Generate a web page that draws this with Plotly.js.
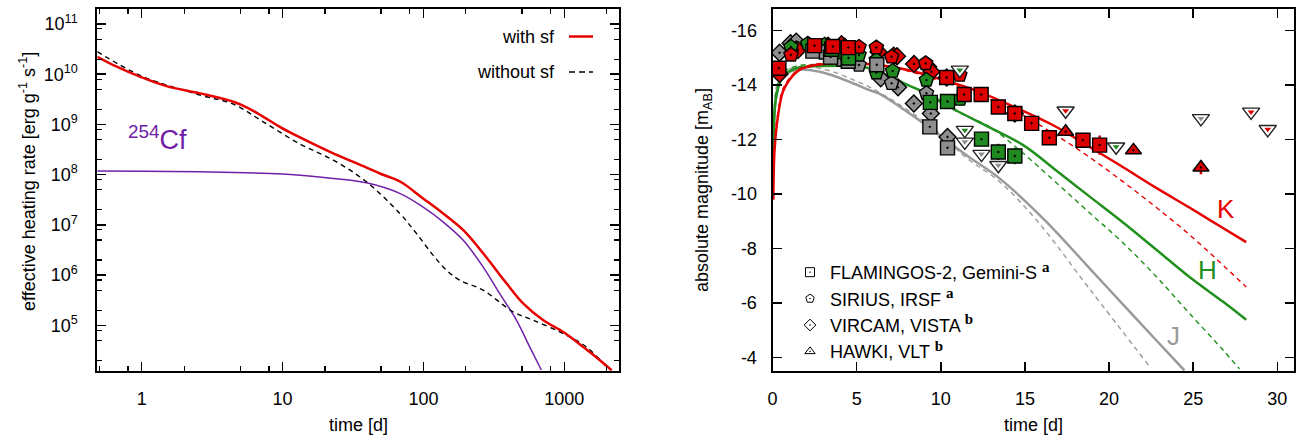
<!DOCTYPE html>
<html>
<head>
<meta charset="utf-8">
<script src="https://cdn.plot.ly/plotly-3.0.1.min.js"></script>
<style>html,body{margin:0;padding:0;background:#fff}#chart{width:1299px;height:437px}</style>
</head>
<body>
<div id="chart"></div>
<script>
// ---------- Left panel: effective heating rate ----------
const withSfT = [0.484, 0.665, 1, 1.5, 2.6, 4.47, 5.7, 7.3, 9.84, 13.3, 21.7, 39.5, 50, 68.2, 98.9, 138, 192, 266, 390, 512, 710, 984, 1365, 1790, 2168];
const withSfQ = [2.23e10, 1.41e10, 8.65e9, 5.8e9, 4.16e9, 2.83e9, 2.12e9, 1.42e9, 8.57e8, 5.52e8, 2.85e8, 1.38e8, 1.03e8, 7.3e7, 3.4e7, 1.69e7, 7.84e6, 2.69e6, 6.78e5, 2.7e5, 1.26e5, 7.36e4, 3.7e4, 2.01e4, 1.27e4];
const withoutSfT = [0.484, 1, 2.59, 4.47, 7.28, 13.3, 22.9, 39.4, 67.9, 89.1, 117, 145.5, 180.7, 265, 432, 598, 977, 1432, 1986];
const withoutSfQ = [2.81e10, 9.2e9, 3.85e9, 2.54e9, 1.13e9, 4.07e8, 1.95e8, 7.21e7, 1.69e7, 6.76e6, 2.5e6, 1.26e6, 7.94e5, 5.01e5, 1.86e5, 1.27e5, 6.89e4, 3.73e4, 1.49e4];
const cfT = [0.484, 2.59, 10, 22.9, 39.4, 67.9, 98.4, 137.7, 191, 265, 347, 457, 568, 687];
const cfQ = [1.18e8, 1.14e8, 1.03e8, 8.43e7, 6.89e7, 4.24e7, 2.30e7, 1.15e7, 4.98e6, 1.46e6, 4.32e5, 1.27e5, 3.73e4, 1.29e4];
const leftXTicks = [1, 10, 100, 1000];
const leftXTickText = ['1', '10', '100', '1000'];
const leftXMinor = [0.5, 0.8, 2, 5, 8, 20, 50, 80, 200, 500, 800, 2000];
const leftYTicks = [1e5, 1e6, 1e7, 1e8, 1e9, 1e10, 1e11];
const leftYTickText = ['10<sup>5</sup>', '10<sup>6</sup>', '10<sup>7</sup>', '10<sup>8</sup>', '10<sup>9</sup>', '10<sup>10</sup>', '10<sup>11</sup>'];
const leftYMinor = [2e4, 5e4, 8e4, 2e5, 5e5, 8e5, 2e6, 5e6, 8e6, 2e7, 5e7, 8e7, 2e8, 5e8, 8e8, 2e9, 5e9, 8e9, 2e10, 5e10, 8e10, 2e11];

// ---------- Right panel: light curves (model) ----------
const jSolidT = [0.05, 0.22, 0.5, 1.0, 1.8, 2.8, 3.79, 4.78, 5.77, 6.37, 7.56, 9.54, 11.53, 13.51, 16.19, 18.87, 20.85, 22.83, 24.48];
const jSolidM = [-11.8, -13.6, -14.2, -14.49, -14.58, -14.49, -14.31, -14.07, -13.82, -13.68, -13.21, -12.35, -11.43, -10.57, -9.04, -7.26, -5.94, -4.62, -3.53];
const jDashT = [0.05, 0.22, 0.5, 0.82, 1.8, 2.8, 3.79, 4.78, 5.77, 7.56, 9.54, 11.53, 13.51, 15.7, 18.87, 22.44];
const jDashM = [-12.5, -13.9, -14.4, -14.56, -14.68, -14.62, -14.45, -14.2, -13.93, -13.28, -12.42, -11.33, -10.45, -9.04, -6.5, -3.65];
const hSolidT = [0.05, 0.22, 0.61, 1.41, 2.8, 4.78, 5.77, 7, 8.05, 8.95, 10.04, 10.9, 12.9, 14.9, 16.9, 18.87, 20.85, 22.83, 24.8, 26.8, 28.15];
const hSolidM = [-11.2, -13.57, -14.31, -14.62, -14.7, -14.7, -14.62, -14.31, -14.0, -13.76, -13.39, -13.08, -12.45, -11.8, -10.85, -9.9, -8.95, -7.95, -6.95, -6.04, -5.39];
const hDashT = [0.05, 0.22, 0.61, 1.41, 2.8, 4.78, 5.77, 7, 8.95, 10.9, 12.9, 14.9, 16.9, 18.87, 20.85, 22.83, 24.8, 26.8, 27.75];
const hDashM = [-11.6, -13.8, -14.45, -14.7, -14.76, -14.72, -14.62, -14.3, -13.73, -13.05, -12.47, -11.5, -10.4, -9.3, -8.2, -6.96, -5.61, -4.26, -3.59];
const kSolidT = [0.05, 0.12, 0.32, 0.61, 1.0, 1.6, 2.4, 3.4, 5, 6.07, 8.05, 10.04, 12.02, 14.7, 16.68, 18.67, 20.65, 22.83, 24.8, 26.5, 28.15];
const kSolidM = [-9.8, -11.6, -12.84, -13.75, -14.19, -14.56, -14.72, -14.8, -14.8, -14.76, -14.56, -14.21, -13.82, -13.11, -12.53, -11.8, -11.06, -10.22, -9.5, -8.86, -8.24];
const kDashT = [0.05, 0.12, 0.32, 0.61, 1.0, 1.6, 2.4, 3.4, 5, 6.07, 8.05, 10.04, 12.02, 14.7, 16.68, 18.67, 20.85, 22.83, 24.8, 26.5, 28.15];
const kDashM = [-10.2, -11.9, -13.0, -13.85, -14.25, -14.6, -14.75, -14.82, -14.8, -14.74, -14.52, -14.15, -13.72, -12.96, -12.23, -11.43, -10.45, -9.5, -8.5, -7.55, -6.59];

// ---------- Right panel: observations ----------
const flamT = [2.4, 3.2, 3.45, 4.5, 6.2, 9.35, 10.4, 3.52, 4.52, 9.38, 10.4, 12.42, 13.42, 14.4, 0.38, 2.5, 3.59, 4.5, 10.35, 11.39, 12.4, 13.42, 14.4, 15.4, 16.45, 18.45, 19.44];
const flamM = [-15.25, -15.22, -15.03, -14.88, -14.75, -12.47, -11.7, -15.32, -15.0, -13.37, -13.4, -12.02, -11.55, -11.4, -14.62, -15.45, -15.42, -15.38, -14.28, -13.66, -13.66, -13.2, -12.96, -12.6, -12.07, -11.98, -11.8];
const flamBand = ['J','J','J','J','J','J','J','H','H','H','H','H','H','H','K','K','K','K','K','K','K','K','K','K','K','K','K'];
const flamErr = [0,0,0,0,0,0.1,0.2,0,0,0,0,0.15,0.3,0.3,0,0,0,0,0,0,0,0,0,0,0,0,0.35];
const siriusT = [4.1, 5.14, 7.08, 9.15, 1.1, 2.1, 3.1, 4.1, 5.14, 6.17, 6.17, 7.14, 9.15, 11.15, 1.1, 5.14, 6.17, 7.08, 9.1, 11.13];
const siriusM = [-14.92, -14.74, -14.07, -13.7, -15.4, -15.52, -15.48, -15.2, -15.11, -14.92, -14.46, -14.52, -14.19, -13.49, -15.11, -15.4, -15.38, -15.04, -14.8, -14.37];
const siriusBand = ['J','J','J','J','H','H','H','H','H','H','H','H','H','H','K','K','K','K','K','K'];
const siriusErr = siriusT.map(() => 0);
const vircamT = [0.42, 1.07, 1.41, 6.43, 7.46, 8.4, 9.41, 10.4, 0.42, 1.51, 2.6, 3.3, 4.1, 4.29, 6.3, 7.2, 7.4, 8.41, 9.25, 9.45, 10.35, 14.4];
const vircamM = [-15.19, -15.54, -15.6, -14.25, -13.92, -13.33, -12.96, -12.1, -14.41, -15.29, -15.38, -15.45, -15.5, -15.41, -15.22, -15.08, -15.06, -14.78, -14.68, -14.49, -14.28, -12.96];
const vircamBand = ['J','J','J','J','J','J','J','J','K','K','K','K','K','K','K','K','K','K','K','K','K','K'];
const vircamErr = vircamT.map(() => 0);
const hawkiT = [17.42, 21.45, 25.46];
const hawkiM = [-12.29, -11.61, -10.98];
const hawkiBand = ['K','K','K'];
const hawkiErr = [0, 0, 0.25];
const limitT = [11.13, 11.43, 11.43, 12.42, 13.42, 17.42, 20.42, 25.46, 28.44, 29.43];
const limitM = [-14.56, -12.35, -11.92, -11.47, -11.06, -13.06, -11.74, -12.78, -13.02, -12.38];
const limitBand = ['H','H','J','J','J','K','H','J','K','K'];
const rightXTicks = [0, 5, 10, 15, 20, 25, 30];
const rightYTicks = [-16, -14, -12, -10, -8, -6, -4];
const rightYTickText = ['-16', '-14', '-12', '-10', '-8', '-6', '-4'];
const refMark = l => ' <sup><span style="font-family:\'Liberation Serif\';font-size:15px"><b>' + l + '</b></span></sup>';
const instrumentNames = ['FLAMINGOS-2, Gemini-S' + refMark('a'), 'SIRIUS, IRSF' + refMark('a'), 'VIRCAM, VISTA' + refMark('b'), 'HAWKI, VLT' + refMark('b')];

const RED = '#e60000', GREEN = '#22901e', GRAY = '#9a9a9a', PURPLE = '#7020a8';
const bandFill = {J: '#8e8e8e', H: '#1f8a1f', K: '#dd0000'};
const bandErr = {J: '#8e8e8e', H: '#1f8a1f', K: '#dd0000'};

const traces = [];
// left panel
const leftLine = (t, q, color, width, dash) => traces.push({x: t, y: q, xaxis: 'x', yaxis: 'y', mode: 'lines', showlegend: false,
  line: {color: color, width: width, dash: dash, shape: 'spline', smoothing: 1}});
leftLine(cfT, cfQ, PURPLE, 1.5, 'solid');
leftLine(withoutSfT, withoutSfQ, '#000', 1.4, '5px,4px');
leftLine(withSfT, withSfQ, RED, 2.5, 'solid');

// right panel model curves
function curve(t, m, color, dashed) {
  traces.push({x: t, y: m, xaxis: 'x2', yaxis: 'y2', mode: 'lines', showlegend: false,
    line: {color: color, width: dashed ? 1.4 : 2.5, dash: dashed ? '5px,4px' : 'solid', shape: 'spline', smoothing: 1}});
}
curve(jDashT, jDashM, GRAY, true);
curve(jSolidT, jSolidM, GRAY, false);
curve(hDashT, hDashM, GREEN, true);
curve(hSolidT, hSolidM, GREEN, false);
curve(kDashT, kDashM, RED, true);
curve(kSolidT, kSolidM, RED, false);

// observations, one trace per band so error bars take the band colour
function obs(t, m, band, err, symbol, size) {
  ['J', 'H', 'K'].forEach(b => {
    const idx = band.map((v, i) => v === b ? i : -1).filter(i => i >= 0);
    if (!idx.length) return;
    traces.push({x: idx.map(i => t[i]), y: idx.map(i => m[i]), xaxis: 'x2', yaxis: 'y2', mode: 'markers', showlegend: false,
      error_y: {type: 'data', array: idx.map(i => err[i]), visible: true, thickness: 2.5, width: 0, color: bandErr[b]},
      marker: {symbol: symbol, size: size, color: bandFill[b], line: {color: '#000', width: 1.4}}});
  });
}
obs(vircamT, vircamM, vircamBand, vircamErr, 'diamond-dot', 13);
obs(siriusT, siriusM, siriusBand, siriusErr, 'pentagon-dot', 15);
obs(flamT, flamM, flamBand, flamErr, 'square-dot', 14);
obs(hawkiT, hawkiM, hawkiBand, hawkiErr, 'triangle-up-dot', 14);

// upper limits
traces.push({x: limitT, y: limitM, xaxis: 'x2', yaxis: 'y2', mode: 'markers', showlegend: false,
  marker: {symbol: 'triangle-down', size: 15, color: '#fff', line: {color: '#222', width: 1.4}}});
traces.push({x: limitT, y: limitM, xaxis: 'x2', yaxis: 'y2', mode: 'markers', showlegend: false,
  marker: {symbol: 'triangle-down', size: 6, color: limitBand.map(b => bandFill[b]), line: {width: 0}}});

// legend entries (instrument symbols)
const legendSymbols = ['square-open-dot', 'pentagon-open-dot', 'diamond-open-dot', 'triangle-up-open-dot'];
instrumentNames.forEach((name, i) => {
  traces.push({x: [null], y: [null], xaxis: 'x2', yaxis: 'y2', mode: 'markers', name: name, legend: 'legend2',
    legendgroup: 'g' + i, marker: {symbol: legendSymbols[i], size: 9, color: '#000', line: {color: '#000', width: 1}}});
});

const axisCommon = {showline: true, linewidth: 2, linecolor: '#000', mirror: 'allticks', ticks: 'inside', ticklen: 9, tickwidth: 1.5, tickcolor: '#000', showgrid: false, zeroline: false, tickfont: {size: 18}};

const layout = {
  width: 1299, height: 437,
  margin: {l: 0, r: 0, t: 0, b: 0},
  paper_bgcolor: '#fff', plot_bgcolor: '#fff',
  font: {family: 'Liberation Sans, Arial, sans-serif', size: 18, color: '#000'},
  showlegend: true,
  xaxis: Object.assign({}, axisCommon, {type: 'log', domain: [97.3/1299, 619.3/1299], range: [-0.3152, 3.3904], anchor: 'y',
    tickmode: 'array', tickvals: leftXTicks, ticktext: leftXTickText, ticklabelstandoff: 10,
    minor: {tickmode: 'array', tickvals: leftXMinor, ticks: 'inside', ticklen: 5, tickwidth: 1.2, tickcolor: '#000'}}),
  yaxis: Object.assign({}, axisCommon, {type: 'log', domain: [1 - 371/437, 1 - 9/437], range: [4.09, 11.299], anchor: 'x',
    tickmode: 'array', tickvals: leftYTicks, ticktext: leftYTickText, ticklabelstandoff: 14,
    minor: {tickmode: 'array', tickvals: leftYMinor, ticks: 'inside', ticklen: 5, tickwidth: 1.2, tickcolor: '#000'}}),
  xaxis2: Object.assign({}, axisCommon, {domain: [772.5/1299, 1294/1299], range: [0, 30.99], anchor: 'y2',
    tickmode: 'array', tickvals: rightXTicks, ticklabelstandoff: 10}),
  yaxis2: Object.assign({}, axisCommon, {domain: [1 - 371/437, 1 - 9/437], range: [-3.51, -16.796], anchor: 'x2',
    tickmode: 'array', tickvals: rightYTicks, ticktext: rightYTickText, ticklabelstandoff: 10}),
  legend2: {x: 790/1299, xanchor: 'left', y: 1 - 254/437, yanchor: 'top', bgcolor: 'rgba(0,0,0,0)', borderwidth: 0,
    font: {size: 18}, tracegroupgap: 0, itemclick: false},
  legend: {visible: false},
  shapes: [
    {type: 'line', xref: 'paper', yref: 'paper', x0: 569/1299, x1: 593/1299, y0: 1 - 36.5/437, y1: 1 - 36.5/437, line: {color: RED, width: 2.5}},
    {type: 'line', xref: 'paper', yref: 'paper', x0: 569/1299, x1: 593/1299, y0: 1 - 72/437, y1: 1 - 72/437, line: {color: '#000', width: 1.4, dash: '6px,4px'}}
  ],
  annotations: [
    {text: 'with sf', xref: 'paper', yref: 'paper', x: 556.7/1299, y: 1 - 36.5/437, xanchor: 'right', yanchor: 'middle', showarrow: false, font: {size: 18}},
    {text: 'without sf', xref: 'paper', yref: 'paper', x: 556.7/1299, y: 1 - 72/437, xanchor: 'right', yanchor: 'middle', showarrow: false, font: {size: 18}},
    {text: '<sup>254</sup>Cf', xref: 'paper', yref: 'paper', x: 157/1299, y: 1 - 138/437, xanchor: 'center', yanchor: 'middle', showarrow: false, font: {size: 27, color: PURPLE}},
    {text: 'effective heating rate [erg g<sup>-1</sup> s<sup>-1</sup>]', xref: 'paper', yref: 'paper', x: 27/1299, y: 1 - 182/437, xanchor: 'center', yanchor: 'middle', textangle: -90, showarrow: false, font: {size: 18}},
    {text: 'time [d]', xref: 'paper', yref: 'paper', x: 358/1299, y: 1 - 425/437, xanchor: 'center', yanchor: 'middle', showarrow: false, font: {size: 18}},
    {text: 'absolute magnitude [m<sub>AB</sub>]', xref: 'paper', yref: 'paper', x: 704/1299, y: 1 - 190/437, xanchor: 'center', yanchor: 'middle', textangle: -90, showarrow: false, font: {size: 18}},
    {text: 'time [d]', xref: 'paper', yref: 'paper', x: 1033/1299, y: 1 - 425/437, xanchor: 'center', yanchor: 'middle', showarrow: false, font: {size: 18}},
    {text: 'K', xref: 'x2', yref: 'y2', x: 26.96, y: -9.47, showarrow: false, font: {size: 26, color: RED}},
    {text: 'H', xref: 'x2', yref: 'y2', x: 25.85, y: -7.2, showarrow: false, font: {size: 26, color: GREEN}},
    {text: 'J', xref: 'x2', yref: 'y2', x: 23.8, y: -4.8, showarrow: false, font: {size: 26, color: GRAY}}
  ]
};

Plotly.newPlot('chart', traces, layout, {displayModeBar: false, staticPlot: true});
</script>
</body>
</html>
